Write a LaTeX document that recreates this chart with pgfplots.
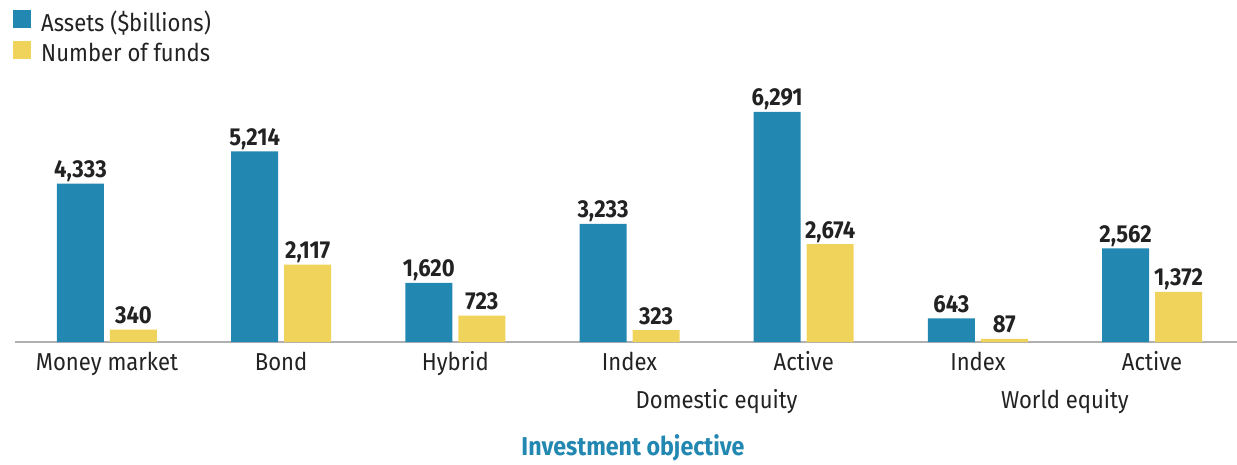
\documentclass[border=0pt]{standalone}
\usepackage{pgfplots}
\pgfplotsset{compat=1.18}
\usepackage{fontspec}
\setmainfont[FakeStretch=0.9]{Fira Sans}
\definecolor{cblue}{HTML}{2287B1}
\definecolor{cyellow}{HTML}{F0D35B}
\definecolor{ctext}{HTML}{222222}
\definecolor{caxis}{HTML}{B0B0B0}
\newcommand{\lblfont}{\fontsize{24.5}{28}\selectfont}
\newcommand{\valfont}{\fontsize{24.5}{28}\selectfont\bfseries}
\newcommand{\ttlfont}{\fontsize{25.8}{30}\selectfont\bfseries}
\begin{document}
\begin{tikzpicture}[x=1pt,y=1pt]
\useasboundingbox (0,0) rectangle (1237,464);
\begin{axis}[
  at={(15pt,122pt)}, anchor=south west,
  scale only axis, width=1222pt, height=282pt,
  xmin=-0.528, xmax=6.488, ymin=0, ymax=7712,
  axis y line=none, axis x line*=bottom,
  x axis line style={draw=caxis, line width=2pt},
  xtick={0,...,6}, major tick length=0pt,
  xticklabels={Money market,Bond,Hybrid,Index,Active,Index,Active},
  xticklabel style={font=\lblfont, text=ctext, anchor=base, yshift=-28pt, inner sep=0pt},
  ybar=6pt, bar width=47pt,
  nodes near coords,
  /pgf/number format/assume math mode=true,
  /pgf/number format/1000 sep={,},
  every node near coord/.append style={font=\valfont, text=ctext, anchor=base, yshift=6pt, inner sep=0pt},
  legend style={at={(axis description cs:-0.0016,1.177)}, anchor=north west, draw=none, fill=none,
    inner sep=0pt, font=\lblfont, text=ctext, row sep=8pt, column sep=10pt,
    nodes={inner sep=0pt}},
  legend cell align=left,
  clip=false,
]
\addplot[fill=cblue, draw=none,
  legend image code/.code={\fill[cblue] (0pt,-6pt) rectangle (18pt,12pt);}]
  coordinates {(0,4333)(1,5214)(2,1620)(3,3233)(4,6291)(5,643)(6,2562)};
\addlegendentry{Assets (\$billions)}
\addplot[fill=cyellow, draw=none,
  legend image code/.code={\fill[cyellow] (0pt,-6pt) rectangle (18pt,12pt);}]
  coordinates {(0,340)(1,2117)(2,723)(3,323)(4,2674)(5,87)(6,1372)};
\addlegendentry{Number of funds}
\path (axis cs:3.5,0) node[anchor=base, yshift=-66pt, font=\lblfont, text=ctext, inner sep=0pt] {Domestic equity};
\path (axis cs:5.5,0) node[anchor=base, yshift=-66pt, font=\lblfont, text=ctext, inner sep=0pt] {World equity};
\path (axis cs:3.02,0) node[anchor=base, yshift=-113pt, font=\ttlfont, text=cblue, inner sep=0pt] {Investment objective};
\end{axis}
\end{tikzpicture}
\end{document}
